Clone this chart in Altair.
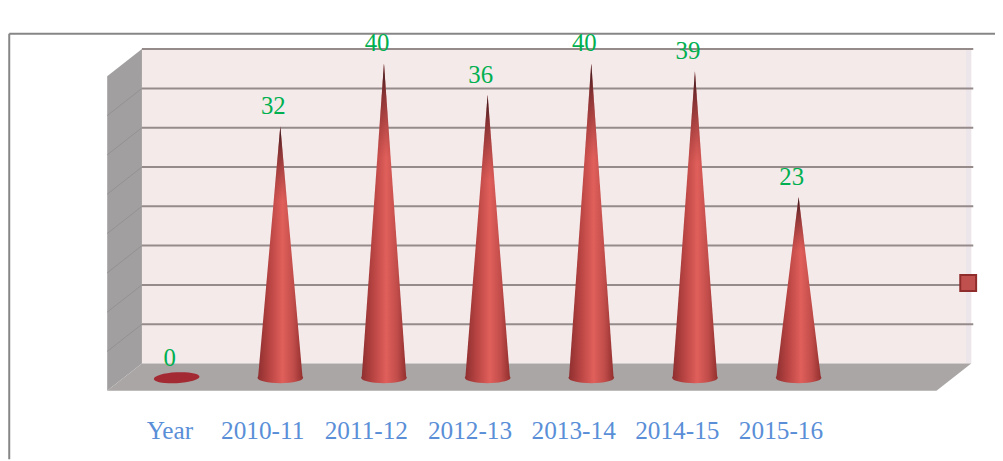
import altair as alt
import pandas as pd

categories = ["Year", "2010-11", "2011-12", "2012-13", "2013-14", "2014-15", "2015-16"]
values = [0, 32, 40, 36, 40, 39, 23]
y_ticks = [0, 5, 10, 15, 20, 25, 30, 35, 40]
x_ticks = list(range(9))

FONT = "Liberation Serif"
BLUE = "#5a8fd8"
GREEN = "#00b050"
AXIS = "#858585"
GRID = "#958b8b"
DX, DY = 0.335, 3.46          # depth of the 3-D box, in data units
CONE_X, CONE_W, CONE_BASE = 0.67, 0.215, 1.65
SLOTS = 8

xs = alt.Scale(domain=[0, SLOTS], nice=False, zero=False)
ys = alt.Scale(domain=[0, 40], nice=False, zero=False)


def X(f="x", axis=None):
    return alt.X(f"{f}:Q", scale=xs, axis=axis, title=None)


def Y(f="y", axis=None):
    return alt.Y(f"{f}:Q", scale=ys, axis=axis, title=None)


# --- box ---
back = alt.Chart(pd.DataFrame([{"x": DX, "x2": SLOTS + DX, "y": DY, "y2": 40 + DY}])).mark_rect(color="#f4eaea").encode(
    x=X(axis=alt.Axis(values=x_ticks, labels=False, tickSize=7, tickWidth=2, tickColor=AXIS,
                      domainColor=AXIS, domainWidth=2, grid=False, zindex=1)),
    x2="x2:Q",
    y=Y(axis=alt.Axis(values=y_ticks, labelFont=FONT, labelFontSize=25, labelColor=BLUE, labelPadding=15,
                      tickSize=8, tickWidth=2, tickColor=AXIS, domainColor=AXIS, domainWidth=2,
                      grid=False, zindex=1)),
    y2="y2:Q",
)
side_band = alt.Chart(pd.DataFrame([{"x": SLOTS + DX - 0.05, "x2": SLOTS + DX, "y": DY, "y2": 40 + DY}])).mark_rect(
    color="#ece5ea").encode(x=X(), x2="x2:Q", y=Y(), y2="y2:Q")

left = alt.Chart(pd.DataFrame({"x": [0, DX], "y": [0, DY], "y2": [40, 40 + DY]})).mark_area(
    color="#a19f9f").encode(x=X(), y=Y(), y2="y2:Q")

floor = alt.Chart(pd.DataFrame({"x": [0, DX, SLOTS, SLOTS + DX],
                                "y": [0, 0, 0, DY],
                                "y2": [0, DY, DY, DY]})).mark_area(color="#aba6a6").encode(
    x=X(), y=Y(), y2="y2:Q")

grid = alt.Chart(pd.DataFrame({"x": DX, "x2": SLOTS + DX + 0.02, "y": [t + DY for t in y_ticks[1:]]})).mark_rule(
    color=GRID, strokeWidth=2).encode(x=X(), x2="x2:Q", y=Y())
grid_left = alt.Chart(pd.DataFrame(
    [{"t": t, "x": x, "y": t + d} for t in y_ticks[1:-1] for x, d in ((0, 0), (DX, DY))])).mark_line(
    color="#939191", strokeWidth=1).encode(x=X(), y=Y(), detail="t:N")

# --- cones ---
cone_rows = []
for i, (c, v) in enumerate(zip(categories, values)):
    if v == 0:
        continue
    cx = i + CONE_X
    tip = v + CONE_BASE
    cone_rows += [
        {"c": c, "x": cx - CONE_W, "y": CONE_BASE, "y2": CONE_BASE},
        {"c": c, "x": cx, "y": tip, "y2": CONE_BASE},
        {"c": c, "x": cx + CONE_W, "y": CONE_BASE, "y2": CONE_BASE},
    ]
cones_df = pd.DataFrame(cone_rows)
stops = [
    alt.GradientStop(offset=0, color="#8f2f30"),
    alt.GradientStop(offset=0.28, color="#bb4644"),
    alt.GradientStop(offset=0.55, color="#e05f5b"),
    alt.GradientStop(offset=0.8, color="#c04c49"),
    alt.GradientStop(offset=1, color="#93302f"),
]
side_grad = alt.Gradient(gradient="linear", x1=0, x2=1, y1=0, y2=0, stops=stops)
tip_grad = alt.Gradient(gradient="linear", x1=0, x2=0, y1=0, y2=1, stops=[
    alt.GradientStop(offset=0, color="rgba(35,20,25,0.95)"),
    alt.GradientStop(offset=0.1, color="rgba(70,20,25,0.55)"),
    alt.GradientStop(offset=0.3, color="rgba(110,30,30,0)"),
    alt.GradientStop(offset=1, color="rgba(110,30,30,0)"),
])
cones = alt.Chart(cones_df).mark_area(color=side_grad).encode(x=X(), y=Y(), y2="y2:Q", detail="c:N")
cones_dark = alt.Chart(cones_df).mark_area(color=tip_grad).encode(x=X(), y=Y(), y2="y2:Q", detail="c:N")

df = pd.DataFrame({
    "c": categories,
    "v": values,
    "x": [i + CONE_X for i in range(len(values))],
    "b": CONE_BASE,
    "tip": [v + CONE_BASE for v in values],
    "lx": [i + 0.5 for i in range(len(values))],
    "ly": -5.1,
})
ELLIPSE = "M-1,0 A1,0.24 0 1,0 1,0 A1,0.24 0 1,0 -1,0 Z"
bases = alt.Chart(df[df.v > 0]).mark_point(shape=ELLIPSE, filled=True, size=2120, opacity=1, fill=side_grad,
                                            strokeWidth=0).encode(x=X(), y=Y("b"))
base_zero = alt.Chart(df[df.v == 0]).mark_point(shape=ELLIPSE, filled=True, size=2120, opacity=1, fill="#a32a33",
                                                 strokeWidth=0, angle=357).encode(x=X(), y=Y("b"))

# --- texts ---
val_text = alt.Chart(df).mark_text(font=FONT, fontSize=25, color=GREEN, dx=-7, dy=-20, baseline="middle").encode(
    x=X(), y=Y("tip"), text="v:N")
cat_text = alt.Chart(df[df.c != "Year"]).mark_text(font=FONT, fontSize=25.5, color=BLUE, baseline="middle").encode(
    x=X("lx"), y=Y("ly"), text="c:N")
year_text = alt.Chart(df[df.c == "Year"]).mark_text(font=FONT, fontSize=25.5, color=BLUE, baseline="middle", dx=11).encode(
    x=X("lx"), y=Y("ly"), text="c:N")

# --- lone legend key ---
key = alt.Chart(pd.DataFrame({"x": [8.306], "y": [13.7]})).mark_square(
    size=256, fill="#c0504d", stroke="#8f2d2c", strokeWidth=2, opacity=1).encode(x=X(), y=Y())

# --- outer frame (top and left edges) ---
frame_top = alt.Chart(pd.DataFrame({"x": [-0.945], "x2": [8.57], "y": [45.4]})).mark_rule(
    color="#868686", strokeWidth=2).encode(x=X(), x2="x2:Q", y=Y())
frame_left = alt.Chart(pd.DataFrame({"x": [-0.945], "y": [45.4], "y2": [-8.7]})).mark_rule(
    color="#868686", strokeWidth=2).encode(x=X(), y=Y(), y2="y2:Q")

chart = alt.layer(
    back, side_band, left, floor, grid_left, grid, frame_top, frame_left,
    base_zero, bases, cones, cones_dark, key, val_text, cat_text, year_text,
).properties(
    width=836, height=317,
    autosize=alt.AutoSizeParams(type="none"),
    padding={"left": 100, "top": 67, "right": 59, "bottom": 69},
    background="white",
).configure_view(stroke=None)

chart.save("out.html", embed_options={"renderer": "svg", "actions": False})
